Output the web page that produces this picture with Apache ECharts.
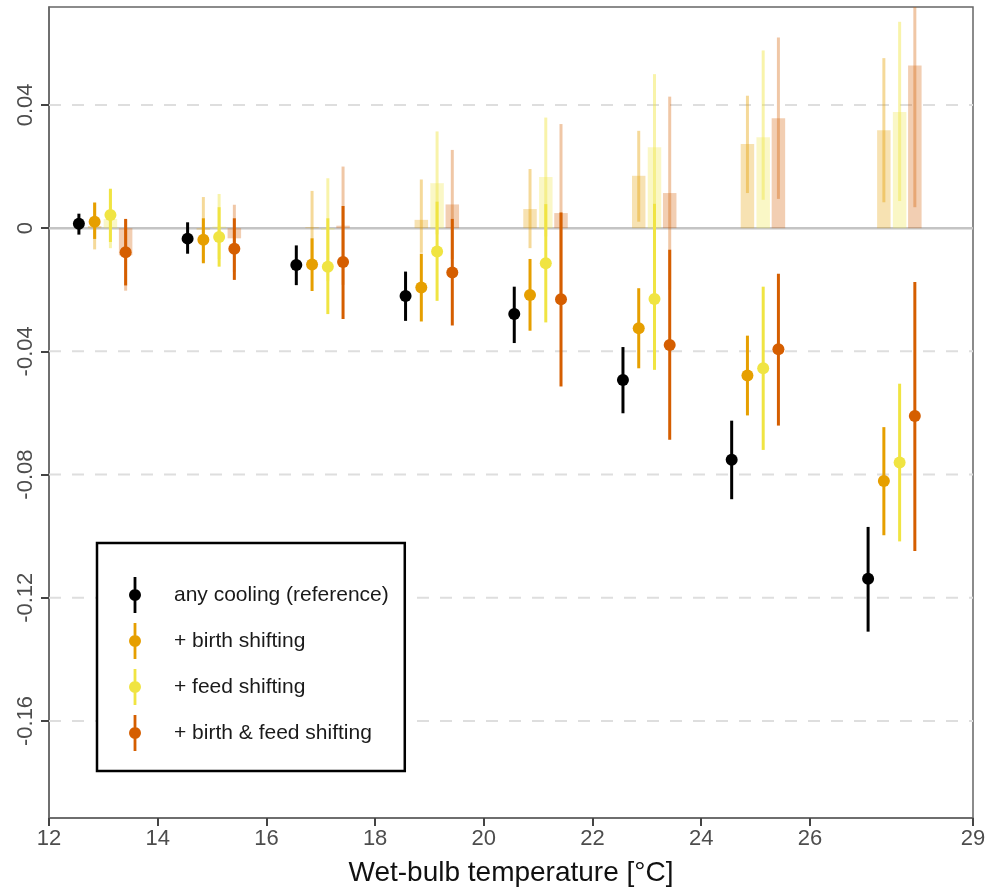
<!DOCTYPE html>
<html>
<head>
<meta charset="utf-8">
<title>Wet-bulb temperature effects</title>
<script src="https://cdn.jsdelivr.net/npm/echarts@6/dist/echarts.min.js"></script>
<style>
    html, body { margin: 0; padding: 0; background: #fff; }
    #chart { width: 995px; height: 888px; }
</style>
</head>
<body>
<div id="chart"></div>
<script>
    // bins (x of the reference point) and dodge of each scenario inside a bin
    const binX = [12.55, 14.55, 16.55, 18.56, 20.56, 22.56, 24.56, 27.07];
    const dodge = [0, 0.29, 0.58, 0.86];
    const xTicks = [12, 14, 16, 18, 20, 22, 24, 26, 29];
    const yTicks = [0.04, 0, -0.04, -0.08, -0.12, -0.16];
    const gridY = [0.04, -0.04, -0.08, -0.12, -0.16];
    const zeroY = [0];

    // any cooling (reference)
    const refEst = [0.0014, -0.0034, -0.0120, -0.0220, -0.0279, -0.0493, -0.0752, -0.1138];
    const refLo  = [-0.0021, -0.0083, -0.0185, -0.0301, -0.0373, -0.0601, -0.0880, -0.1310];
    const refHi  = [0.0047, 0.0019, -0.0056, -0.0141, -0.0190, -0.0386, -0.0625, -0.0970];
    // + birth shifting
    const birthEst = [0.0021, -0.0038, -0.0118, -0.0193, -0.0217, -0.0325, -0.0478, -0.0821];
    const birthLo  = [-0.0035, -0.0114, -0.0204, -0.0303, -0.0333, -0.0455, -0.0608, -0.0997];
    const birthHi  = [0.0083, 0.0032, -0.0033, -0.0083, -0.0100, -0.0195, -0.0349, -0.0646];
    // + feed shifting
    const feedEst = [0.0043, -0.0029, -0.0125, -0.0076, -0.0114, -0.0230, -0.0455, -0.0761];
    const feedLo  = [-0.0045, -0.0125, -0.0279, -0.0236, -0.0306, -0.0460, -0.0720, -0.1017];
    const feedHi  = [0.0128, 0.0068, 0.0032, 0.0086, 0.0078, 0.0079, -0.0190, -0.0505];
    // + birth & feed shifting
    const bothEst = [-0.0078, -0.0067, -0.0110, -0.0144, -0.0231, -0.0379, -0.0393, -0.0610];
    const bothLo  = [-0.0186, -0.0168, -0.0295, -0.0316, -0.0514, -0.0687, -0.0641, -0.1048];
    const bothHi  = [0.0030, 0.0032, 0.0072, 0.0030, 0.0051, -0.0070, -0.0148, -0.0175];

    // gain over the reference (light bars)
    const birthGain   = [0.0007, -0.0005, 0.0003, 0.0027, 0.0062, 0.0170, 0.0273, 0.0318];
    const birthGainLo = [-0.0069, -0.0110, -0.0115, -0.0080, -0.0065, 0.0021, 0.0114, 0.0084];
    const birthGainHi = [0.0083, 0.0101, 0.0121, 0.0158, 0.0192, 0.0316, 0.0430, 0.0552];
    const feedGain    = [0.0030, 0.0005, -0.0005, 0.0146, 0.0166, 0.0263, 0.0295, 0.0377];
    const feedGainLo  = [-0.0065, -0.0100, -0.0172, -0.0020, -0.0027, 0.0026, 0.0092, 0.0088];
    const feedGainHi  = [0.0125, 0.0111, 0.0162, 0.0314, 0.0359, 0.0500, 0.0577, 0.0670];
    const bothGain    = [-0.0088, -0.0033, 0.0008, 0.0077, 0.0049, 0.0114, 0.0357, 0.0528];
    const bothGainLo  = [-0.0203, -0.0142, -0.0184, -0.0100, -0.0240, -0.0200, 0.0095, 0.0068];
    const bothGainHi  = [0.0027, 0.0076, 0.0200, 0.0254, 0.0338, 0.0427, 0.0619, 0.0990];

    const X_MIN = 12, X_MAX = 29, Y_MIN = -0.1915, Y_MAX = 0.0718;
    const FONT = '"Liberation Sans", Arial, sans-serif';

    const names = ['any cooling (reference)', '+ birth shifting', '+ feed shifting', '+ birth & feed shifting'];
    const colors = ['#000000', '#E69F00', '#F0E442', '#D55E00'];
    const lightBar = ['', 'rgba(230,159,0,0.3)', 'rgba(240,228,66,0.3)', 'rgba(213,94,0,0.3)'];
    const lightLine = ['', 'rgba(230,159,0,0.4)', 'rgba(240,228,66,0.45)', 'rgba(213,94,0,0.35)'];

    function xsFor(k) {
        return binX.map(x => x + dodge[k]);
    }
    function clampY(v) {
        return Math.max(Y_MIN, Math.min(Y_MAX, v));
    }

    // vertical interval lines
    function ciSeries(k, lo, hi, color, z) {
        const xs = xsFor(k);
        return {
            type: 'custom',
            silent: true,
            z: z,
            data: xs.map((x, i) => [x, lo[i], hi[i]]),
            encode: {x: 0, y: [1, 2]},
            renderItem: function (params, api) {
                const a = api.coord([api.value(0), clampY(api.value(1))]);
                const b = api.coord([api.value(0), clampY(api.value(2))]);
                return {
                    type: 'line',
                    shape: {x1: a[0], y1: a[1], x2: b[0], y2: b[1]},
                    style: {stroke: color, lineWidth: 3}
                };
            }
        };
    }

    // light bars from 0
    function gainSeries(k, vals, color) {
        const xs = xsFor(k);
        return {
            type: 'custom',
            silent: true,
            z: 2,
            data: xs.map((x, i) => [x, vals[i]]),
            encode: {x: 0, y: 1},
            renderItem: function (params, api) {
                const base = api.coord([api.value(0), 0]);
                const top = api.coord([api.value(0), api.value(1)]);
                const w = 13.5;
                return {
                    type: 'rect',
                    shape: {x: base[0] - w / 2, y: Math.min(base[1], top[1]), width: w, height: Math.abs(top[1] - base[1])},
                    style: {fill: color}
                };
            }
        };
    }

    // horizontal reference lines across the plot
    function hLines(values, style, z) {
        return {
            type: 'custom',
            silent: true,
            z: z,
            data: values.map(v => [v]),
            encode: {y: 0},
            renderItem: function (params, api) {
                const a = api.coord([X_MIN, api.value(0)]);
                const b = api.coord([X_MAX, api.value(0)]);
                return {
                    type: 'line',
                    shape: {x1: a[0], y1: a[1], x2: b[0], y2: b[1]},
                    style: style
                };
            }
        };
    }

    function pointSeries(k, est) {
        const xs = xsFor(k);
        return {
            name: names[k],
            type: 'scatter',
            z: 6,
            symbol: 'circle',
            symbolSize: 12,
            itemStyle: {color: colors[k], opacity: 1},
            emphasis: {disabled: true},
            data: xs.map((x, i) => [x, est[i]])
        };
    }

    const chart = echarts.init(document.getElementById('chart'), null, {renderer: 'canvas'});

    chart.setOption({
        animation: false,
        backgroundColor: '#ffffff',
        textStyle: {fontFamily: FONT},
        grid: {
            left: 49, right: 22, top: 7, bottom: 70,
            show: true,
            borderColor: '#666',
            borderWidth: 1.5,
            containLabel: false,
            outerBoundsMode: 'none'
        },
        legend: {
            data: names,
            orient: 'vertical',
            left: 97,
            top: 543,
            padding: [34, 16, 20, 32],
            itemGap: 10,
            itemWidth: 12,
            itemHeight: 36,
            icon: 'path://M4.6,0 L7.4,0 L7.4,36 L4.6,36 Z M0,18 A6,6 0 1,1 12,18 A6,6 0 1,1 0,18 Z',
            borderColor: '#000',
            borderWidth: 2.5,
            backgroundColor: '#fff',
            selectedMode: false,
            textStyle: {fontSize: 21, color: '#1a1a1a', fontFamily: FONT, padding: [0, 0, 0, 28]}
        },
        xAxis: {
            type: 'value',
            min: X_MIN,
            max: X_MAX,
            name: 'Wet-bulb temperature [°C]',
            nameLocation: 'middle',
            nameGap: 41,
            nameTextStyle: {fontSize: 28, color: '#111', fontFamily: FONT},
            axisLine: {show: true, onZero: false, lineStyle: {color: '#666', width: 1.5}},
            axisTick: {show: true, length: 8, customValues: xTicks, lineStyle: {color: '#444', width: 2}},
            axisLabel: {customValues: xTicks, fontSize: 22, color: '#4d4d4d', margin: 10, fontFamily: FONT},
            splitLine: {show: false}
        },
        yAxis: {
            type: 'value',
            min: Y_MIN,
            max: Y_MAX,
            axisLine: {show: true, onZero: false, lineStyle: {color: '#666', width: 1.5}},
            axisTick: {show: true, length: 8, customValues: yTicks, lineStyle: {color: '#444', width: 2}},
            axisLabel: {
                customValues: yTicks,
                rotate: 90,
                fontSize: 22,
                color: '#4d4d4d',
                margin: 12,
                fontFamily: FONT,
                formatter: v => (v === 0 ? '0' : String(+v.toFixed(2)))
            },
            splitLine: {show: false}
        },
        series: [
            hLines(gridY, {stroke: '#dedede', lineWidth: 2, lineDash: [12, 11]}, 1),
            hLines(zeroY, {stroke: '#c4c4c4', lineWidth: 2.5}, 1),

            gainSeries(1, birthGain, lightBar[1]),
            gainSeries(2, feedGain, lightBar[2]),
            gainSeries(3, bothGain, lightBar[3]),
            ciSeries(1, birthGainLo, birthGainHi, lightLine[1], 3),
            ciSeries(2, feedGainLo, feedGainHi, lightLine[2], 3),
            ciSeries(3, bothGainLo, bothGainHi, lightLine[3], 3),

            ciSeries(0, refLo, refHi, colors[0], 5),
            ciSeries(1, birthLo, birthHi, colors[1], 5),
            ciSeries(2, feedLo, feedHi, colors[2], 5),
            ciSeries(3, bothLo, bothHi, colors[3], 5),

            pointSeries(0, refEst),
            pointSeries(1, birthEst),
            pointSeries(2, feedEst),
            pointSeries(3, bothEst)
        ]
    });
</script>
</body>
</html>
